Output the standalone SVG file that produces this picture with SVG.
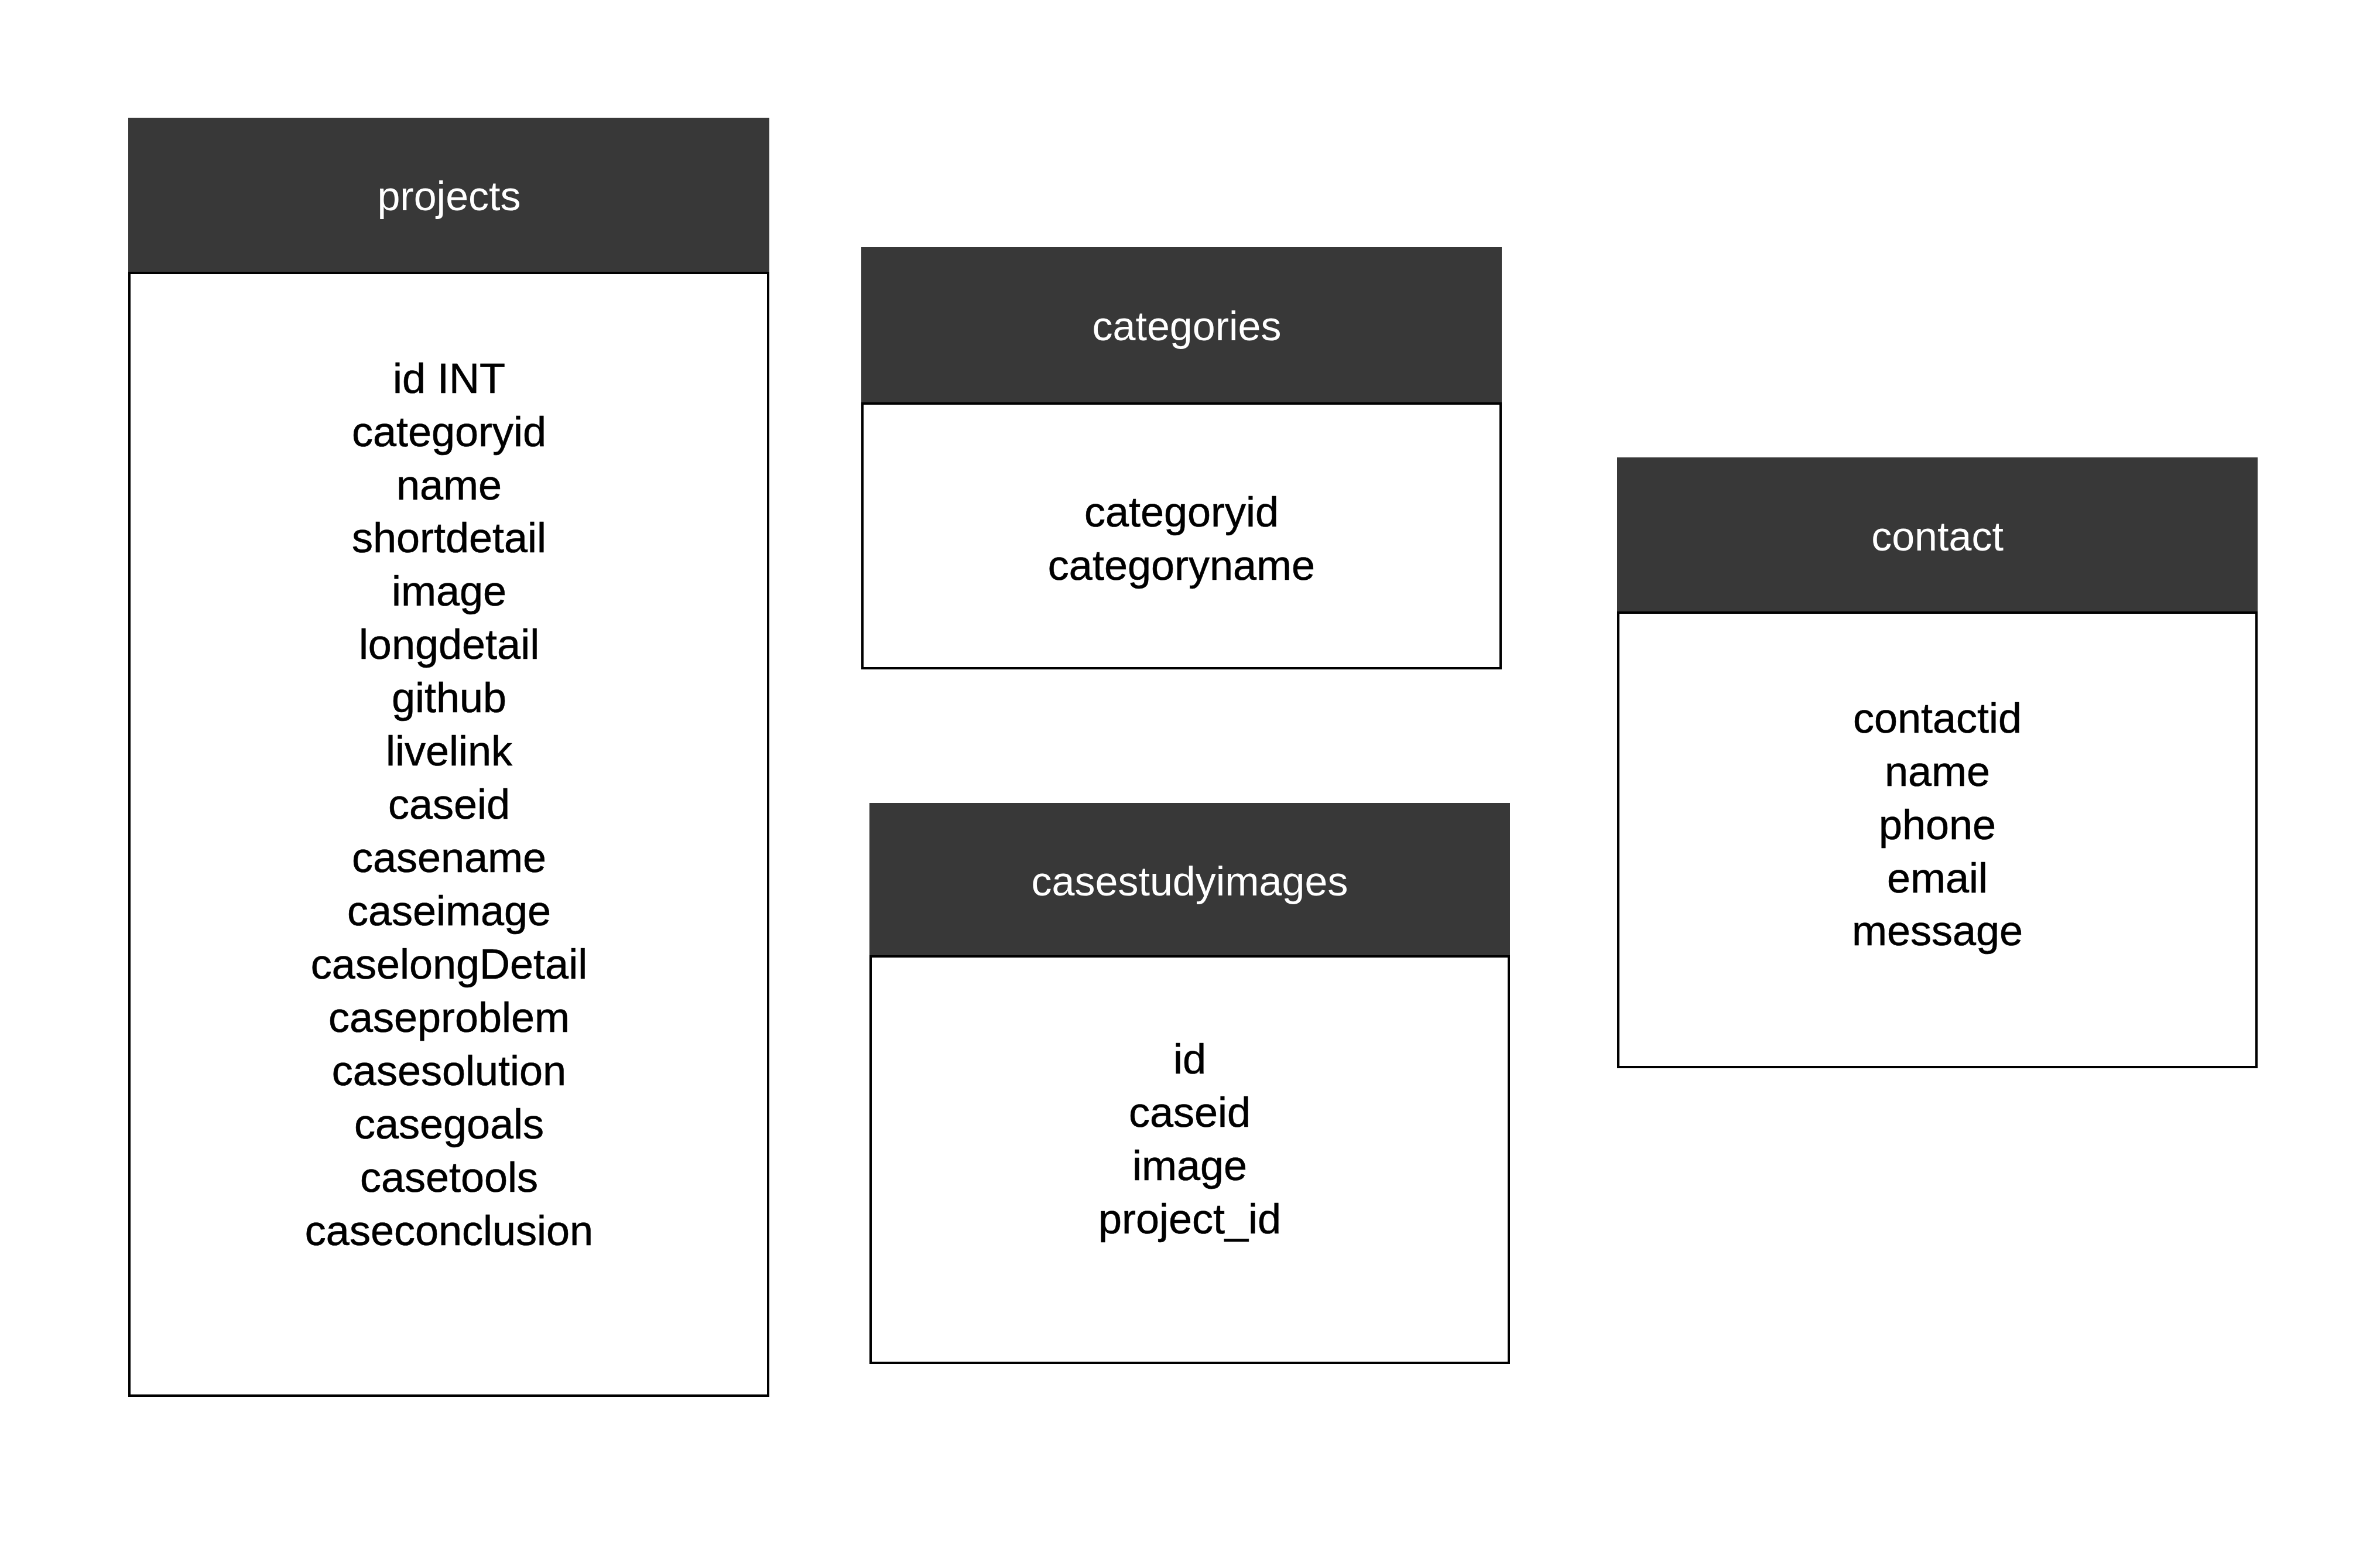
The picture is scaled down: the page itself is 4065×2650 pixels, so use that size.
<svg xmlns="http://www.w3.org/2000/svg" width="4065" height="2650" viewBox="0 0 4065 2650">
<style>
.hdr{fill:#383838}
.body{fill:#ffffff;stroke:#000000;stroke-width:4}
.title{font-family:"Liberation Sans",Arial,sans-serif;font-size:70px;fill:#ffffff;text-anchor:middle}
.field{font-family:"Liberation Sans",Arial,sans-serif;font-size:72px;fill:#000000;text-anchor:middle;stroke:#000000;stroke-width:0.6}
</style>
<rect x="0" y="0" width="4065" height="2650" fill="#ffffff"/>
<g id="connectors"></g>
<g id="projects">
<rect class="hdr" x="219" y="201" width="1095" height="265"/>
<rect class="body" x="221" y="466" width="1091" height="1917"/>
<text class="title" x="767" y="359">projects</text>
<text class="field" x="767" y="671">id INT</text>
<text class="field" x="767" y="762">categoryid</text>
<text class="field" x="767" y="853">name</text>
<text class="field" x="767" y="943">shortdetail</text>
<text class="field" x="767" y="1034">image</text>
<text class="field" x="767" y="1125">longdetail</text>
<text class="field" x="767" y="1216">github</text>
<text class="field" x="767" y="1307">livelink</text>
<text class="field" x="767" y="1398">caseid</text>
<text class="field" x="767" y="1489">casename</text>
<text class="field" x="767" y="1580">caseimage</text>
<text class="field" x="767" y="1671">caselongDetail</text>
<text class="field" x="767" y="1762">caseproblem</text>
<text class="field" x="767" y="1853">casesolution</text>
<text class="field" x="767" y="1944">casegoals</text>
<text class="field" x="767" y="2035">casetools</text>
<text class="field" x="767" y="2126">caseconclusion</text>
</g>
<g id="categories">
<rect class="hdr" x="1471" y="422" width="1094" height="267"/>
<rect class="body" x="1473" y="689" width="1090" height="452"/>
<text class="title" x="2027" y="581">categories</text>
<text class="field" x="2018" y="899">categoryid</text>
<text class="field" x="2018" y="990">categoryname</text>
</g>
<g id="casestudyimages">
<rect class="hdr" x="1485" y="1371" width="1094" height="262"/>
<rect class="body" x="1487" y="1633" width="1090" height="694"/>
<text class="title" x="2032" y="1529">casestudyimages</text>
<text class="field" x="2032" y="1833">id</text>
<text class="field" x="2032" y="1924">caseid</text>
<text class="field" x="2032" y="2015">image</text>
<text class="field" x="2032" y="2106">project_id</text>
</g>
<g id="contact">
<rect class="hdr" x="2762" y="781" width="1094" height="265"/>
<rect class="body" x="2764" y="1046" width="1090" height="776"/>
<text class="title" x="3309" y="940">contact</text>
<text class="field" x="3309" y="1251">contactid</text>
<text class="field" x="3309" y="1342">name</text>
<text class="field" x="3309" y="1433">phone</text>
<text class="field" x="3309" y="1524">email</text>
<text class="field" x="3309" y="1614">message</text>
</g>
</svg>
